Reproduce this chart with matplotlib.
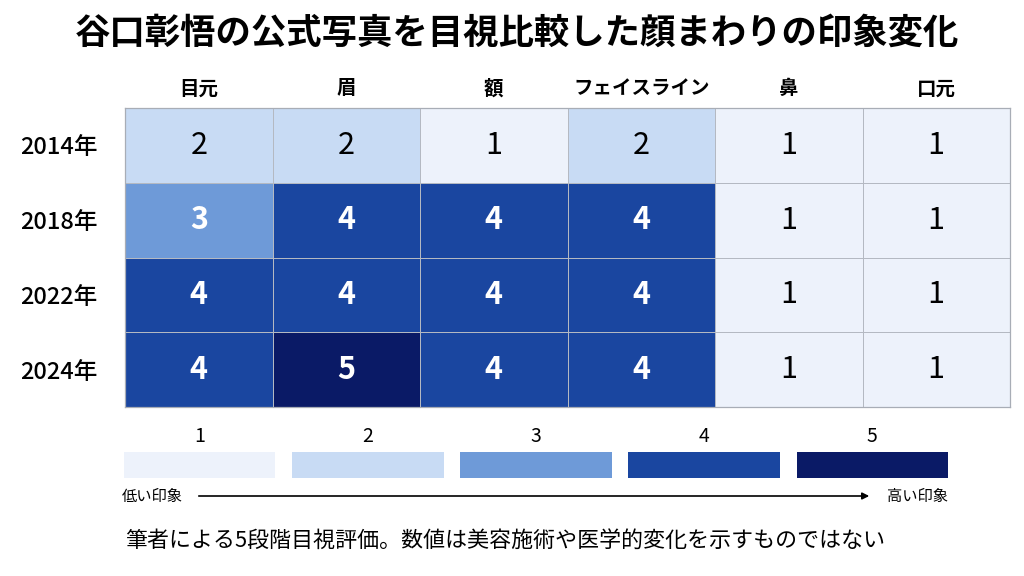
import numpy as np
import matplotlib
matplotlib.use('Agg')
from matplotlib import pyplot as plt
from matplotlib.colors import ListedColormap, BoundaryNorm

plt.rcParams['font.family'] = ['Noto Sans CJK JP', 'DejaVu Sans']

# data
parts = ['目元', '眉', '額', 'フェイスライン', '鼻', '口元']
years = ['2014年', '2018年', '2022年', '2024年']
scores = np.array([
    [2, 2, 1, 2, 1, 1],
    [3, 4, 4, 4, 1, 1],
    [4, 4, 4, 4, 1, 1],
    [4, 5, 4, 4, 1, 1],
])
levels = [1, 2, 3, 4, 5]
level_colors = ['#edf2fb', '#c8dbf4', '#6e9ad8', '#1a46a0', '#0a1a66']

title = '谷口彰悟の公式写真を目視比較した顔まわりの印象変化'
low_label = '低い印象'
high_label = '高い印象'
note = '筆者による5段階目視評価。数値は美容施術や医学的変化を示すものではない'

W, H = 1024, 576
fig = plt.figure(figsize=(W / 100, H / 100), dpi=100)
fig.patch.set_facecolor('white')

cmap = ListedColormap(level_colors)
norm = BoundaryNorm(np.arange(0.5, 6.5, 1), cmap.N)

# heatmap
ax = fig.add_axes([125 / W, 1 - 407 / H, 885 / W, 299 / H])
ax.pcolormesh(scores, cmap=cmap, norm=norm, edgecolors='#b4b9c2', linewidth=0.7)
ax.set_xlim(0, len(parts))
ax.set_ylim(len(years), 0)
for s in ax.spines.values():
    s.set_color('#a8adb6')
    s.set_linewidth(0.9)
ax.set_xticks(np.arange(len(parts)) + 0.5)
ax.set_xticklabels(parts, fontsize=14, fontweight='bold')
ax.xaxis.tick_top()
ax.set_yticks(np.arange(len(years)) + 0.5)
ax.set_yticklabels(years, fontsize=17, fontweight='medium')
ax.tick_params(axis='x', length=0, pad=7)
ax.tick_params(axis='y', length=0, pad=20)
for i in range(len(years)):
    for j in range(len(parts)):
        v = scores[i, j]
        ax.text(j + 0.5, i + 0.5, str(v), ha='center', va='center',
                fontsize=22, fontweight='bold' if v >= 3 else 'normal',
                color='white' if v >= 3 else 'black')

# legend swatches
lax = fig.add_axes([124 / W, 1 - 478 / H, 824 / W, 26 / H])
lax.bar(np.arange(len(levels)), [1] * len(levels), width=0.9, color=level_colors, align='center')
lax.set_xlim(-0.45, len(levels) - 0.55)
lax.set_ylim(0, 1)
lax.axis('off')
for k, lv in enumerate(levels):
    lax.text(k, 1.2, str(lv), ha='center', va='bottom', fontsize=14)

# arrow
fig.text(122 / W, 1 - 496 / H, low_label, ha='left', va='center', fontsize=11)
fig.text(948 / W, 1 - 496 / H, high_label, ha='right', va='center', fontsize=11)
fig.add_artist(matplotlib.patches.FancyArrowPatch(
    (196 / W, 1 - 496 / H), (872 / W, 1 - 496 / H),
    transform=fig.transFigure, arrowstyle='-|>', mutation_scale=10,
    color='black', linewidth=1.2))

fig.text(517 / W, 1 - 33 / H, title, ha='center', va='center',
         fontsize=25.5, fontweight='bold')
fig.text(125 / W, 1 - 541 / H, note, ha='left', va='center', fontsize=15.8)

fig.savefig('out.png', dpi=100)
